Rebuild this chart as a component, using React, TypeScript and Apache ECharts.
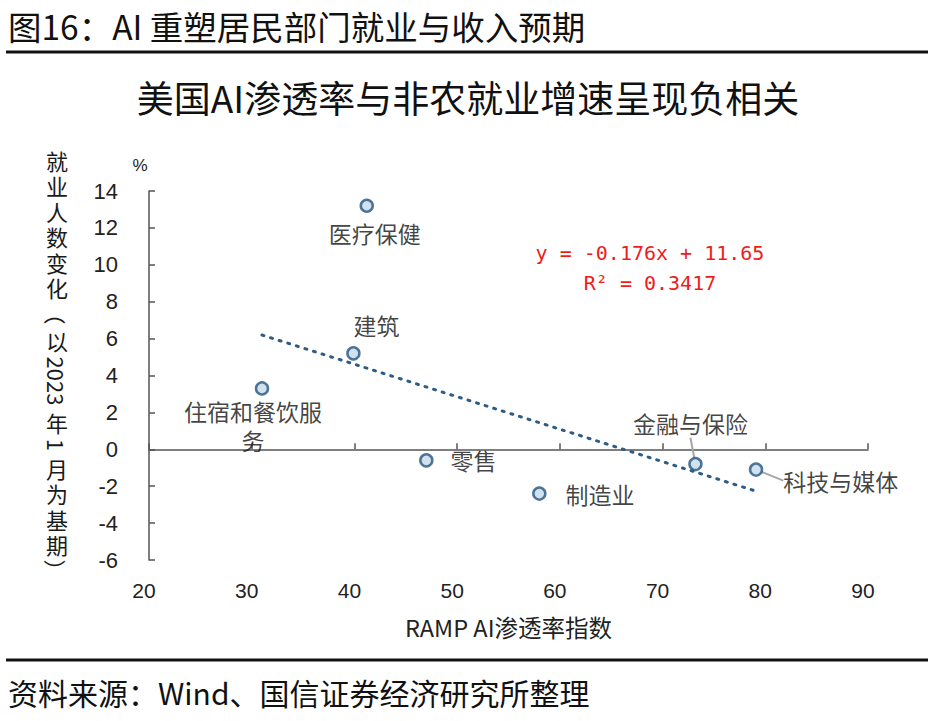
import * as echarts from 'echarts';
import React, { useEffect, useRef } from 'react';

// 行业 / RAMP AI渗透率指数 / 就业人数变化(%)
const categories = ['医疗保健', '建筑', '住宿和餐饮服务', '零售', '制造业', '金融与保险', '科技与媒体'];
const aiIndex = [41.2, 39.9, 31.0, 47.0, 58.0, 73.2, 79.1];
const jobChange = [13.2, 5.2, 3.3, -0.6, -2.4, -0.8, -1.1];

// 趋势线 (图中给出的拟合式)
const trendSlope = -0.176;
const trendIntercept = 11.65;
const equationLines = ['y = -0.176x + 11.65', 'R² = 0.3417'];

const headerText = '图16：AI 重塑居民部门就业与收入预期';
const chartTitle = '美国AI渗透率与非农就业增速呈现负相关';
const sourceText = '资料来源：Wind、国信证券经济研究所整理';
const xAxisTitle = 'RAMP AI渗透率指数';
const yAxisTitle = '就业人数变化（以2023年1月为基期）';

const CJK = '"Noto Sans CJK SC", "Noto Sans", sans-serif';
const NUM = '"Liberation Sans", Arial, sans-serif';

// label placement per point: position, distance, move (dx, dy), guide line
const labelPlacement: any[] = [
  { position: 'bottom', distance: 5, move: [8, 0] },
  { position: 'top', distance: 7, move: [23, 0] },
  { position: 'bottom', distance: 1, move: [-9, 0], width: 142 },
  { position: 'right', distance: 17 },
  { position: 'right', distance: 19 },
  { position: 'top', distance: 5, move: [-5, -14], guide: true },
  { position: 'right', distance: 5, move: [15, 11], guide: true },
];

// vertical axis title: CJK upright, digits and brackets turned clockwise
function verticalTitle(text: string, cx: number, top: number, fs: number) {
  const ctx = document.createElement('canvas').getContext('2d')!;
  ctx.font = `${fs}px ${CJK}`;
  const segs = text.match(/[0-9]+|./g) || [];
  let y = top;
  return segs.map((s) => {
    const isDigit = /[0-9]/.test(s);
    const rot = isDigit || s === '（' || s === '）';
    const adv = isDigit ? ctx.measureText(s).width + 8 : rot ? 27 : 25.5;
    const c = y + adv / 2;
    y += adv;
    return {
      type: 'text',
      x: cx,
      y: c,
      rotation: rot ? -Math.PI / 2 : 0,
      style: {
        text: s,
        fontSize: fs,
        lineHeight: rot ? fs : adv,
        fontFamily: CJK,
        fill: '#1a1a1a',
        align: 'center',
        verticalAlign: 'middle',
      },
    };
  });
}

const App: React.FC = () => {
  const chartRef = useRef<HTMLDivElement>(null);

  useEffect(() => {
    const myChart = echarts.init(chartRef.current!, null, { renderer: 'svg' });

    const xMin = Math.min(...aiIndex);
    const xMax = Math.max(...aiIndex);
    const trend = [xMin, xMax].map((x) => [x, trendSlope * x + trendIntercept]);

    const points = categories.map((name, i) => {
      const p = labelPlacement[i];
      return {
        name,
        value: [aiIndex[i], jobChange[i]],
        label: {
          position: p.position,
          distance: p.distance,
          width: p.width,
          overflow: p.width ? 'break' : 'none',
          lineHeight: 29,
        },
        labelLine: { show: !!p.guide },
      };
    });

    const option = {
      animation: false,
      textStyle: { fontFamily: CJK },
      grid: { left: 149, right: 65, top: 191, bottom: 161 },
      xAxis: [
        {
          type: 'value',
          min: 20,
          max: 90,
          interval: 10,
          position: 'bottom',
          axisLine: { onZero: true, lineStyle: { color: '#555', width: 1.5 } },
          axisTick: { inside: true, length: 6, lineStyle: { color: '#555', width: 1.5 } },
          axisLabel: { show: false },
          splitLine: { show: false },
        },
        {
          type: 'value',
          min: 20,
          max: 90,
          interval: 10,
          position: 'bottom',
          axisLine: { show: false, onZero: false },
          axisTick: { show: false },
          axisLabel: {
            margin: 20,
            fontSize: 21,
            color: '#222',
            fontFamily: NUM,
            padding: [0, 10, 0, 0],
          },
          splitLine: { show: false },
          name: xAxisTitle,
          nameLocation: 'middle',
          nameGap: 55,
          nameTextStyle: { fontSize: 23.5, color: '#222', fontFamily: CJK },
        },
      ],
      yAxis: {
        type: 'value',
        min: -6,
        max: 14,
        interval: 2,
        axisLine: { show: true, onZero: false, lineStyle: { color: '#555', width: 1.5 } },
        axisTick: { show: true, inside: true, length: 6, lineStyle: { color: '#555', width: 1.5 } },
        axisLabel: { margin: 31, fontSize: 22, color: '#222', fontFamily: NUM },
        splitLine: { show: false },
        name: '%',
        nameGap: 17,
        nameTextStyle: { fontSize: 17, color: '#222', fontFamily: NUM, padding: [0, 18, 0, 0] },
      },
      series: [
        {
          type: 'line',
          data: trend,
          xAxisIndex: 0,
          showSymbol: false,
          symbol: 'none',
          z: 1,
          lineStyle: { color: '#2e5c84', width: 3, type: [2, 7], cap: 'round' },
        },
        {
          type: 'scatter',
          data: points,
          xAxisIndex: 0,
          symbol: 'circle',
          symbolSize: 12,
          z: 3,
          itemStyle: { color: '#c4d9ec', borderColor: '#24547e', borderWidth: 2.5 },
          label: {
            show: true,
            formatter: '{b}',
            fontSize: 23,
            color: '#111',
            fontFamily: CJK,
          },
          labelLine: { lineStyle: { color: '#a6a6a6', width: 2 } },
          labelLayout: (params: any) => {
            const p = labelPlacement[params.dataIndex];
            return p && p.move ? { dx: p.move[0], dy: p.move[1] } : {};
          },
        },
      ],
      graphic: [
        {
          type: 'text',
          x: 8,
          y: 25,
          style: {
            text: headerText,
            fontSize: 33.5,
            fontFamily: CJK,
            fill: '#111',
            verticalAlign: 'middle',
          },
        },
        {
          type: 'line',
          shape: { x1: 6, y1: 52, x2: 928, y2: 52 },
          style: { stroke: '#111', lineWidth: 3 },
        },
        {
          type: 'text',
          x: 468,
          y: 97,
          style: {
            text: chartTitle,
            fontSize: 37,
            fontFamily: CJK,
            fill: '#111',
            align: 'center',
            verticalAlign: 'middle',
          },
        },
        ...equationLines.map((t, i) => ({
          type: 'text',
          x: 650,
          y: 253 + i * 30,
          style: {
            text: t,
            fontSize: 20,
            fontFamily: '"DejaVu Sans Mono", monospace',
            fill: '#ee1c1c',
            align: 'center',
            verticalAlign: 'middle',
          },
        })),
        {
          type: 'group',
          children: verticalTitle(yAxisTitle, 57, 147, 22),
        },
        {
          type: 'line',
          shape: { x1: 6, y1: 660, x2: 928, y2: 660 },
          style: { stroke: '#111', lineWidth: 3 },
        },
        {
          type: 'text',
          x: 8,
          y: 692,
          style: { text: sourceText, fontSize: 30, fontFamily: CJK, fill: '#111', verticalAlign: 'middle' },
        },
      ],
    };

    myChart.setOption(option as any);

    return () => {
      myChart.dispose();
    };
  }, []);

  return (
    <div
      ref={chartRef}
      style={{ position: 'absolute', left: 0, top: 0, width: '933px', height: '721px', background: '#fff' }}
    />
  );
};

export default App;
